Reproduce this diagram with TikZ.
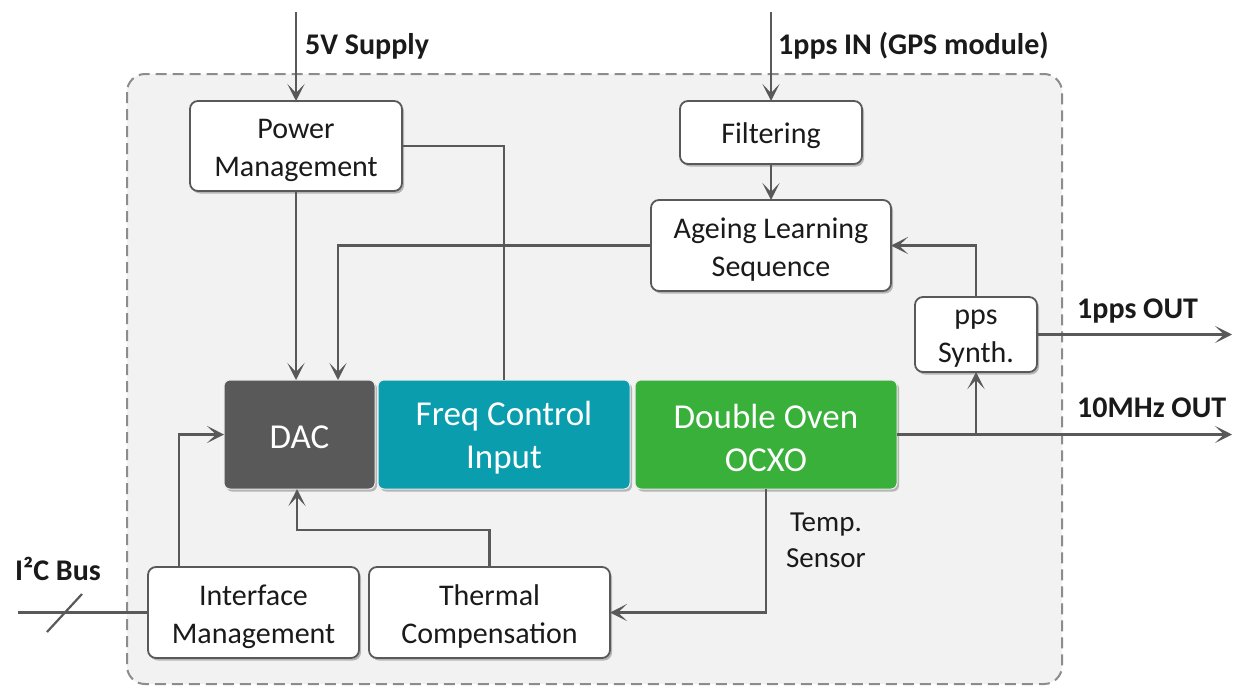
\documentclass[tikz,border=0pt]{standalone}
\usepackage{fontspec}
\setmainfont{Carlito}
\usetikzlibrary{arrows.meta,shadows,calc}
\definecolor{lin}{HTML}{595959}
\definecolor{bgc}{HTML}{F2F2F2}
\definecolor{dacc}{HTML}{595959}
\definecolor{fcic}{HTML}{0A9DAE}
\definecolor{ocxc}{HTML}{38B03A}
\definecolor{txt}{HTML}{1A1A1A}
\begin{document}
\begin{tikzpicture}[x=1pt,y=-1pt,
  wbox/.style={draw=lin, line width=1.8pt, fill=white, rounded corners=8pt,
    inner sep=0pt, outer sep=0pt,
    drop shadow={shadow xshift=2pt, shadow yshift=-2.5pt, opacity=0.25, fill=black}},
  cbox/.style={draw=white!85!gray, line width=1pt, rounded corners=6pt,
    inner sep=0pt, outer sep=0pt, minimum height=109pt,
    drop shadow={shadow xshift=2pt, shadow yshift=-2.5pt, opacity=0.25, fill=black}},
  wtxt/.style={align=center, inner sep=0pt, text=txt, font=\fontsize{30}{38}\selectfont},
  ctxt/.style={align=center, inner sep=0pt, text=white, font=\fontsize{35}{43}\selectfont},
  conn/.style={draw=lin, line width=2.2pt},
  arr/.style={conn, -{Stealth[length=17pt,width=17pt,inset=9pt]}},
  lbl/.style={anchor=west, inner sep=0pt, text=txt, font=\bfseries\fontsize{30}{34}\selectfont},
  small/.style={align=center, inner sep=0pt, text=txt, font=\fontsize{29}{36}\selectfont}
]
\useasboundingbox (0,0) rectangle (1237,686);
\fill[white] (0,0) rectangle (1237,686);
% enclosure
\draw[draw=gray!90, line width=2pt, dash pattern=on 11pt off 6pt, rounded corners=18pt, fill=bgc]
  (127,74) rectangle (1062,684);

% boxes
\node[wbox, minimum width=212pt, minimum height=90pt] (pm) at (296,146) {};
\node[wbox, minimum width=182pt, minimum height=63pt] (filt) at (771,132.5) {};
\node[wbox, minimum width=240pt, minimum height=91pt] (age) at (771,245.5) {};
\node[wbox, minimum width=122pt, minimum height=75pt] (pps) at (976,334.5) {};
\node[cbox, fill=dacc, minimum width=151pt] (dac) at (299.5,434.5) {};
\node[cbox, fill=fcic, minimum width=252pt] (fci) at (504,434.5) {};
\node[cbox, fill=ocxc, minimum width=262pt] (ocxo) at (766,434.5) {};
\node[wbox, minimum width=211pt, minimum height=91pt] (ifm) at (253.5,612.5) {};
\node[wbox, minimum width=241pt, minimum height=91pt] (tc) at (489.5,612.5) {};

% box texts
\node[wtxt] (pmt) at ($(pm)+(0,4)$) {Power\\Management};
\node[wtxt] (filtt) at ($(filt)+(0,3)$) {Filtering};
\node[wtxt] (aget) at ($(age)+(0,4)$) {Ageing Learning\\Sequence};
\node[wtxt] (ppst) at ($(pps)+(0,4)$) {pps\\Synth.};
\node[ctxt] (dact) at ($(dac)+(0,3)$) {DAC};
\node[ctxt] (fcit) at ($(fci)+(0,3.5)$) {Freq Control\\Input};
\node[ctxt] (ocxot) at ($(ocxo)+(0,3.5)$) {Double Oven\\OCXO};
\node[wtxt] (ifmt) at ($(ifm)+(0,4)$) {Interface\\Management};
\node[wtxt] (tct) at ($(tc)+(0,4)$) {Thermal\\Compensation};

% free ends
\coordinate (vin) at (296,12);
\coordinate (ppsin) at (771,12);
\coordinate (out10) at (1232,434.5);
\coordinate (i2c) at (18,612.5);
\coordinate (br) at (976,434.5);

% labels
\node[lbl] (l5v) at (305,46) {5V Supply};
\node[lbl] (lpin) at (778,46) {1pps IN (GPS module)};
\node[lbl] (lpout) at (1077,311) {1pps OUT};
\node[lbl] (l10) at (1077,408) {10MHz OUT};
\node[lbl] (li2c) at (15,569) {I²C Bus};
\node[small] (lts) at (826,540) {Temp.\\Sensor};

% connectors
\draw[arr] (vin) -- (pm.north);
\draw[arr] (ppsin) -- (filt.north);
\draw[arr] (filt.south) -- (age.north);
\draw[arr] (pm.south) -- (pm.south |- dac.north);
\draw[conn] (pm.east) -| (fci.north);
\draw[arr] (age.west) -| ($(dac.north)+(38.5,0)$);
\draw[arr] (pps.north) |- (age.east);
\draw[arr] (ocxo.east) -- (out10);
\draw[arr] (br) -- (pps.south);
\draw[arr] (pps.east) -- (pps.east -| out10);
\draw[arr] (ocxo.south) |- (tc.east);
\draw[arr] (tc.north) -- ++(0,-37) -| ($(dac.south)+(-2.5,0)$);
\draw[arr] ($(ifm.north west)+(31,0)$) |- (dac.west);
\draw[conn] (i2c) -- (ifm.west);
\draw[conn] (47,632) -- (82,594);
\end{tikzpicture}
\end{document}
